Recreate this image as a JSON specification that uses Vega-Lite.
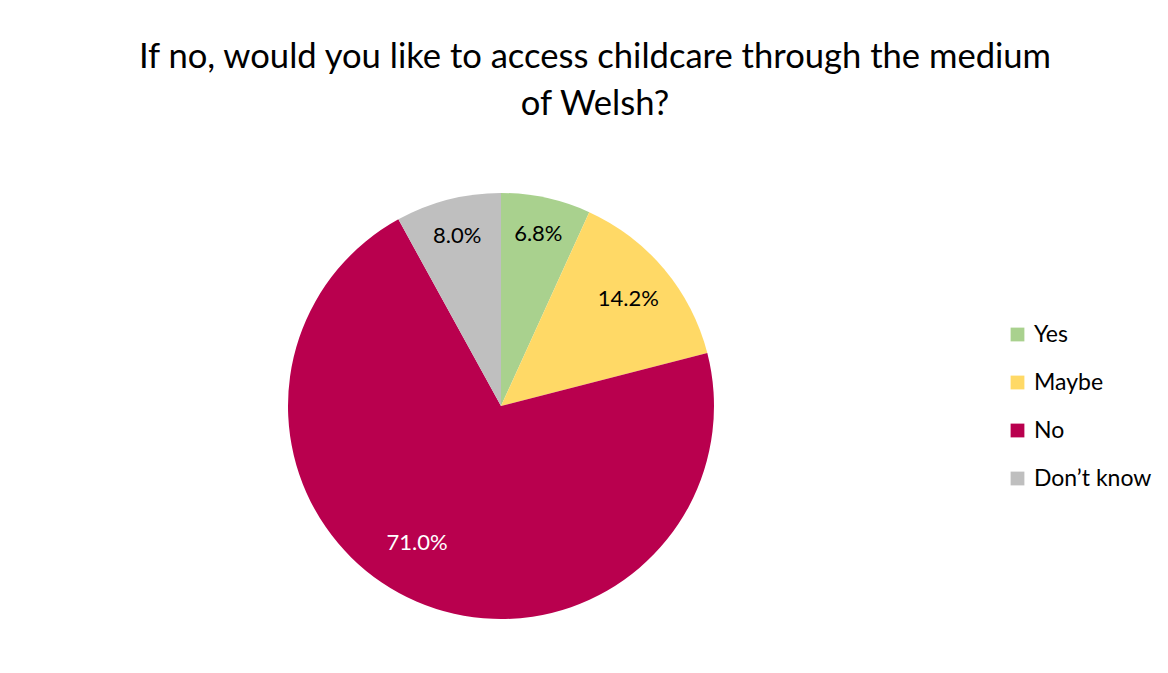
{
  "$schema": "https://vega.github.io/schema/vega-lite/v6.json",
  "width": 426,
  "height": 426,
  "autosize": {"type": "none"},
  "padding": {"left": 288, "top": 193, "right": 454, "bottom": 54},
  "background": "white",
  "title": {
    "text": ["If no, would you like to access childcare through the medium", "of Welsh?"],
    "font": "Lato",
    "fontSize": 34.6,
    "fontWeight": "normal",
    "color": "#000000",
    "anchor": "middle",
    "frame": "group",
    "dx": 94,
    "lineHeight": 47,
    "offset": 70
  },
  "data": {
    "values": [
      {"category": "Yes", "value": 6.8, "order": 1, "label": "6.8%"},
      {"category": "Maybe", "value": 14.2, "order": 2, "label": "14.2%"},
      {"category": "No", "value": 71.0, "order": 3, "label": "71.0%"},
      {"category": "Don’t know", "value": 8.0, "order": 4, "label": "8.0%"}
    ]
  },
  "encoding": {
    "theta": {"field": "value", "type": "quantitative", "stack": true},
    "order": {"field": "order", "type": "quantitative"}
  },
  "layer": [
    {
      "mark": {"type": "arc", "outerRadius": 213},
      "encoding": {
        "color": {
          "field": "category",
          "type": "nominal",
          "scale": {
            "domain": ["Yes", "Maybe", "No", "Don’t know"],
            "range": ["#A9D18E", "#FFD966", "#B9004E", "#BFBFBF"]
          },
          "legend": {
            "title": null,
            "orient": "none",
            "legendX": 718,
            "legendY": 130,
            "symbolType": "square",
            "symbolSize": 190,
            "symbolStrokeWidth": 0,
            "labelFont": "Lato",
            "labelFontSize": 23,
            "labelColor": "#000000",
            "rowPadding": 24,
            "labelOffset": 5
          }
        }
      }
    },
    {
      "mark": {"type": "text", "radius": 176, "font": "Lato", "fontSize": 22, "fill": "#000000"},
      "encoding": {
        "text": {"field": "label", "type": "nominal"},
        "opacity": {"condition": {"test": "datum.category === 'Yes' || datum.category === 'Don’t know'", "value": 1}, "value": 0}
      }
    },
    {
      "mark": {"type": "text", "radius": 166, "font": "Lato", "fontSize": 22, "fill": "#000000"},
      "encoding": {
        "text": {"field": "label", "type": "nominal"},
        "opacity": {"condition": {"test": "datum.category === 'Maybe'", "value": 1}, "value": 0}
      }
    },
    {
      "mark": {"type": "text", "radius": 161, "dx": -20, "dy": -11, "font": "Lato", "fontSize": 22, "fill": "#FFFFFF"},
      "encoding": {
        "text": {"field": "label", "type": "nominal"},
        "opacity": {"condition": {"test": "datum.category === 'No'", "value": 1}, "value": 0}
      }
    }
  ],
  "config": {"view": {"stroke": null}}
}
